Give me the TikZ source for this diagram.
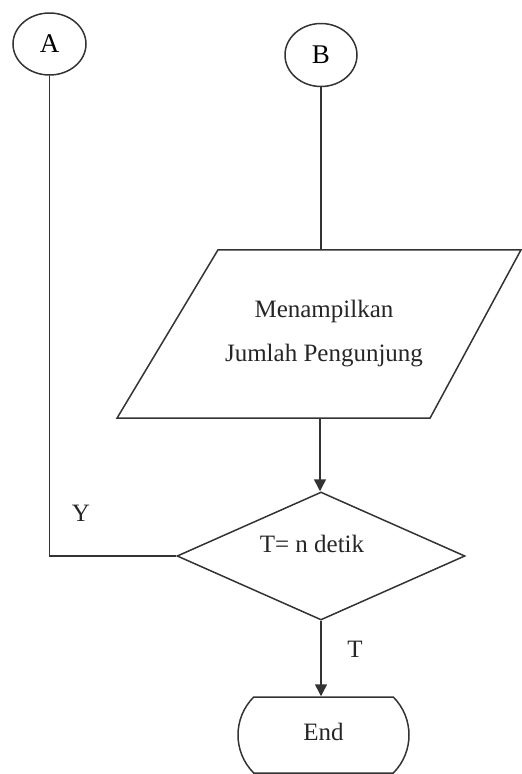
\documentclass[tikz,border=0pt]{standalone}
\usepackage{fontspec}
\setmainfont{Liberation Serif}
\usetikzlibrary{shapes.geometric,shapes.misc,arrows.meta,calc}
\tikzset{
  ln/.style={line width=1.5pt, draw=black!80},
  arr/.style={ln, -{Triangle[length=12pt,width=12pt]}},
  conn/.style={ellipse, ln, inner sep=0pt, font=\fontsize{27}{30}\selectfont},
  txt/.style={font=\fontsize{25}{44}\selectfont, text=black!85, align=center, inner sep=0pt},
  dec/.style={diamond, ln, aspect=2.25, inner sep=0pt, minimum width=288pt, minimum height=128pt},
  term/.style={rounded rectangle, rounded rectangle arc length=90, ln, minimum width=171pt, minimum height=76pt, inner sep=0pt}
}
\begin{document}
\begin{tikzpicture}[x=1pt,y=-1pt]
\useasboundingbox (0,0) rectangle (522,774);
% connectors A and B
\node[conn, minimum width=73pt, minimum height=62pt] (A) at (49.5,44) {A};
\node[conn, minimum width=72pt, minimum height=63pt] (B) at (321,55) {B};
% input/output parallelogram
\node[minimum width=200pt, minimum height=168pt, inner sep=0pt] (io) at (320,334) {};
\draw[ln] ($(io.north)+(-102,0)$) -- ($(io.north)+(201,0)$) -- ($(io.south)+(110,0)$) -- ($(io.south)+(-203,0)$) -- cycle;
\node[txt] (iotext) at (324,334) {Menampilkan\\Jumlah Pengunjung};
% decision
\node[dec] (d) at (321,556) {};
\node[txt] (dtext) at (312,544) {T= n detik};
% terminal
\node[term] (e) at (323.5,735) {};
\node[txt] (etext) at (323.5,732) {End};
% labels
\node[txt] (ly) at (81,513) {Y};
\node[txt] (lt) at (355,649) {T};
% connectors
\draw[ln] (B.south) -- (B.south |- io.north);
\draw[arr] (io.south) -- (io.south |- d.north);
\draw[arr] (d.south) -- (d.south |- e.north);
\draw[ln] (A.south) |- (d.west);
\end{tikzpicture}
\end{document}
